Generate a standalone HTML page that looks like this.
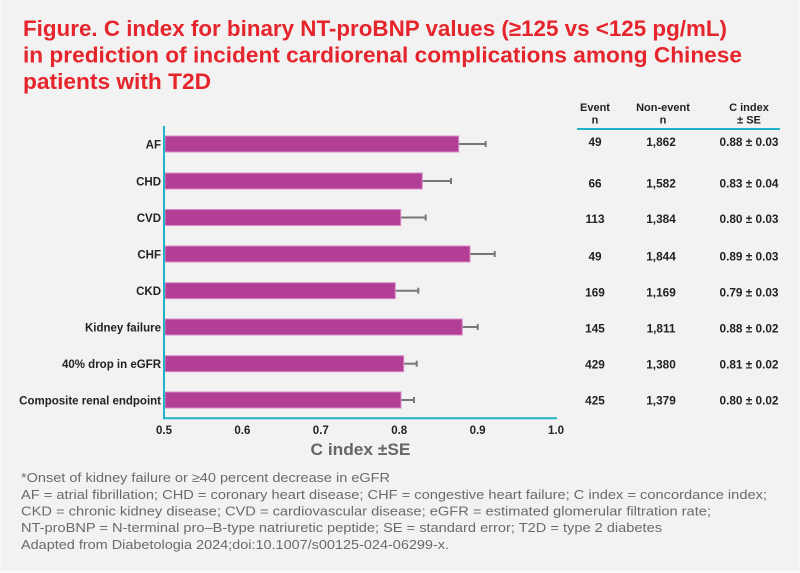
<!DOCTYPE html>
<html>
<head>
<meta charset="utf-8">
<style>
  html,body{margin:0;padding:0;background:#f2f2f2;}
  svg{display:block;}
  text{font-family:"Liberation Sans",Arial,sans-serif;}
</style>
</head>
<body>
<svg width="800" height="573" viewBox="0 0 800 573" xmlns="http://www.w3.org/2000/svg">
  <rect x="0" y="0" width="800" height="573" fill="#f9f9f9"/>
  <rect x="1" y="0" width="798" height="571" fill="#f2f2f2"/>

  <!-- Title -->
  <g fill="#e6242b" font-weight="bold" font-size="22">
    <text x="23" y="36" textLength="704" lengthAdjust="spacingAndGlyphs">Figure. C index for binary NT-proBNP values (≥125 vs &lt;125 pg/mL)</text>
    <text x="23" y="62.5" textLength="719" lengthAdjust="spacingAndGlyphs">in prediction of incident cardiorenal complications among Chinese</text>
    <text x="23" y="89" textLength="188" lengthAdjust="spacingAndGlyphs">patients with T2D</text>
  </g>

  <!-- Table headers -->
  <g fill="#222" font-weight="bold" font-size="11" text-anchor="middle">
    <text x="595" y="111">Event</text>
    <text x="595" y="123.5">n</text>
    <text x="663" y="111">Non-event</text>
    <text x="663" y="123.5">n</text>
    <text x="749" y="111">C index</text>
    <text x="749" y="123.5">± SE</text>
  </g>
  <line x1="577" y1="129" x2="780" y2="129" stroke="#1fb3c8" stroke-width="2"/>

  <!-- Table rows -->
  <g fill="#222" font-weight="bold" font-size="11.8" text-anchor="middle">
    <text x="595" y="146">49</text><text x="661" y="146">1,862</text><text x="749" y="146">0.88 ± 0.03</text>
    <text x="595" y="187.5">66</text><text x="661" y="187.5">1,582</text><text x="749" y="187.5">0.83 ± 0.04</text>
    <text x="595" y="223">113</text><text x="661" y="223">1,384</text><text x="749" y="223">0.80 ± 0.03</text>
    <text x="595" y="260.5">49</text><text x="661" y="260.5">1,844</text><text x="749" y="260.5">0.89 ± 0.03</text>
    <text x="595" y="296.5">169</text><text x="661" y="296.5">1,169</text><text x="749" y="296.5">0.79 ± 0.03</text>
    <text x="595" y="332.5">145</text><text x="661" y="332.5">1,811</text><text x="749" y="332.5">0.88 ± 0.02</text>
    <text x="595" y="368.5">429</text><text x="661" y="368.5">1,380</text><text x="749" y="368.5">0.81 ± 0.02</text>
    <text x="595" y="404.5">425</text><text x="661" y="404.5">1,379</text><text x="749" y="404.5">0.80 ± 0.02</text>
  </g>

  <!-- Error bars -->
  <g stroke="#777" stroke-width="2">
    <line x1="458" y1="144" x2="485.7" y2="144"/><line x1="485.7" y1="141" x2="485.7" y2="147"/>
    <line x1="422" y1="181" x2="451" y2="181"/><line x1="451" y1="178" x2="451" y2="184"/>
    <line x1="400" y1="217.5" x2="425.7" y2="217.5"/><line x1="425.7" y1="214.5" x2="425.7" y2="220.5"/>
    <line x1="469" y1="254" x2="494.7" y2="254"/><line x1="494.7" y1="251" x2="494.7" y2="257"/>
    <line x1="395" y1="290.7" x2="418.3" y2="290.7"/><line x1="418.3" y1="287.7" x2="418.3" y2="293.7"/>
    <line x1="462" y1="327" x2="477.7" y2="327"/><line x1="477.7" y1="324" x2="477.7" y2="330"/>
    <line x1="403" y1="363.7" x2="416.7" y2="363.7"/><line x1="416.7" y1="360.7" x2="416.7" y2="366.7"/>
    <line x1="401" y1="400" x2="414" y2="400"/><line x1="414" y1="397" x2="414" y2="403"/>
  </g>

  <!-- Bars -->
  <g fill="#b33e96" stroke="#d98cc7" stroke-width="1">
    <rect x="165" y="136" width="293.7" height="16"/>
    <rect x="165" y="173" width="257.3" height="16"/>
    <rect x="165" y="209.5" width="235.7" height="16"/>
    <rect x="165" y="246" width="305" height="16"/>
    <rect x="165" y="282.7" width="230.3" height="16"/>
    <rect x="165" y="319" width="297.3" height="16"/>
    <rect x="165" y="355.7" width="238.7" height="16"/>
    <rect x="165" y="392" width="236" height="16"/>
  </g>

  <!-- Axes -->
  <line x1="164" y1="126" x2="164" y2="419.3" stroke="#1fb3c8" stroke-width="2"/>
  <line x1="163" y1="418.3" x2="557" y2="418.3" stroke="#1fb3c8" stroke-width="2"/>

  <!-- Y labels -->
  <g fill="#222" font-weight="bold" font-size="11.5" text-anchor="end">
    <text x="161" y="148.3">AF</text>
    <text x="161" y="185.3">CHD</text>
    <text x="161" y="221.8">CVD</text>
    <text x="161" y="258.3">CHF</text>
    <text x="161" y="295">CKD</text>
    <text x="161" y="331.3">Kidney failure</text>
    <text x="161" y="368">40% drop in eGFR</text>
    <text x="161" y="404.3">Composite renal endpoint</text>
  </g>

  <!-- X tick labels -->
  <g fill="#222" font-weight="bold" font-size="11.5" text-anchor="middle">
    <text x="164" y="434">0.5</text>
    <text x="242.4" y="434">0.6</text>
    <text x="320.8" y="434">0.7</text>
    <text x="399.2" y="434">0.8</text>
    <text x="477.6" y="434">0.9</text>
    <text x="556" y="434">1.0</text>
  </g>
  <text x="360.5" y="455" fill="#666" font-weight="bold" font-size="17" text-anchor="middle" textLength="100" lengthAdjust="spacingAndGlyphs">C index ±SE</text>

  <!-- Footnotes -->
  <g fill="#6a6a6a" font-size="13">
    <text x="21" y="482" textLength="369" lengthAdjust="spacingAndGlyphs">*Onset of kidney failure or ≥40 percent decrease in eGFR</text>
    <text x="21" y="499" textLength="746" lengthAdjust="spacingAndGlyphs">AF = atrial fibrillation; CHD = coronary heart disease; CHF = congestive heart failure; C index = concordance index;</text>
    <text x="21" y="515.5" textLength="690" lengthAdjust="spacingAndGlyphs">CKD = chronic kidney disease; CVD = cardiovascular disease; eGFR = estimated glomerular filtration rate;</text>
    <text x="21" y="532" textLength="641" lengthAdjust="spacingAndGlyphs">NT-proBNP = N-terminal pro–B-type natriuretic peptide; SE = standard error; T2D = type 2 diabetes</text>
    <text x="21" y="549" textLength="428" lengthAdjust="spacingAndGlyphs">Adapted from Diabetologia 2024;doi:10.1007/s00125-024-06299-x.</text>
  </g>
</svg>
</body>
</html>
